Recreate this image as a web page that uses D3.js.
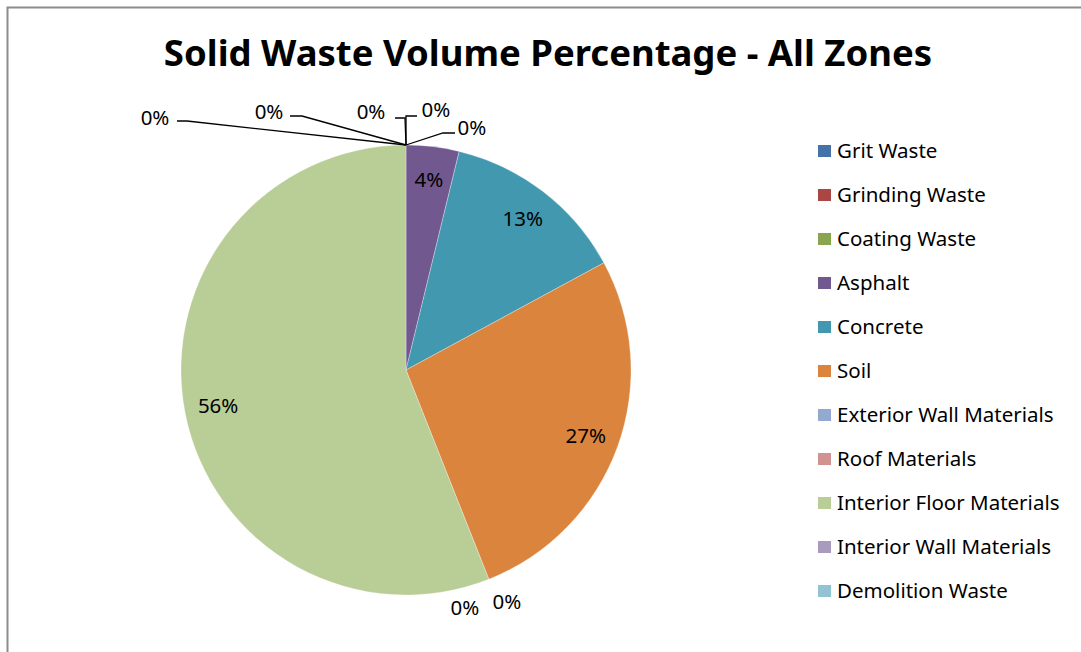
<!DOCTYPE html>
<html>
<head>
<meta charset="utf-8">
<script src="https://cdn.jsdelivr.net/npm/d3@7"></script>
<style>
  body { margin: 0; background: #fff; }
  svg text { font-family: "Noto Sans", "Open Sans", sans-serif; fill: #000; }
</style>
</head>
<body>
<svg id="chart" width="1081" height="652"></svg>
<script>
// data
var categories = ["Grit Waste", "Grinding Waste", "Coating Waste", "Asphalt", "Concrete", "Soil",
  "Exterior Wall Materials", "Roof Materials", "Interior Floor Materials", "Interior Wall Materials", "Demolition Waste"];
var values = [0, 0, 0, 3.8, 13.3, 26.9, 0, 0, 56.0, 0, 0];
var colors = ["#4572A7", "#AA4643", "#89A54E", "#71588F", "#4198AF", "#DB843D",
  "#93A9CF", "#D19392", "#B9CD96", "#A99BBD", "#91C3D5"];
var title = "Solid Waste Volume Percentage - All Zones";

// where the 0% labels of empty slices sit, relative to the slice's point on the rim
// [text dx, text dy, leader elbow dx, dy, leader end dx, dy] (no leader when only two numbers)
var zeroLabels = {
  "Grit Waste":       [30, -35, 0, -29, 11, -29],
  "Grinding Waste":   [66, -17, 37, -12, 49, -12],
  "Coating Waste":    [-35, -33, -1, -27, -11, -27],
  "Exterior Wall Materials": [-24, 29],
  "Roof Materials":   [18, 23],
  "Interior Wall Materials": [-137, -33, -104, -29, -116, -29],
  "Demolition Waste": [-251, -27, -219, -24, -229, -24]
};

var svg = d3.select("#chart");
var cx = 406, cy = 370, radius = 225;

// frame
svg.append("rect")
  .attr("x", 7.5).attr("y", 7.5)
  .attr("width", 1100).attr("height", 700)
  .attr("fill", "none").attr("stroke", "#8c8c8c").attr("stroke-width", 2);

svg.append("text")
  .attr("x", 548).attr("y", 66)
  .attr("text-anchor", "middle")
  .style("font-size", "36.5px").style("font-weight", "bold")
  .text(title);

var data = categories.map(function(c, i) { return { name: c, value: values[i], color: colors[i] }; });
var total = d3.sum(values);

var pie = d3.pie().sort(null).value(function(d) { return d.value; });
var arcs = pie(data);

var arc = d3.arc().innerRadius(0).outerRadius(radius);
var labelArc = d3.arc().innerRadius(radius * 0.85).outerRadius(radius * 0.85);

var g = svg.append("g").attr("transform", "translate(" + cx + "," + cy + ")");

g.selectAll("path.slice")
  .data(arcs)
  .enter()
  .append("path")
  .attr("class", "slice")
  .attr("d", arc)
  .attr("fill", function(d) { return d.data.color; })
  .attr("stroke", "#fff")
  .attr("stroke-width", 0.5)
  .attr("stroke-opacity", function(d) { return d.value > 0 ? 0.6 : 0; });

var pct = function(d) { return Math.round(d.value / total * 100) + "%"; };

// labels inside the slices
g.selectAll("text.inside")
  .data(arcs.filter(function(d) { return d.value > 0; }))
  .enter()
  .append("text")
  .attr("class", "inside")
  .attr("transform", function(d) {
    var c = labelArc.centroid(d);
    return "translate(" + c[0] + "," + c[1] + ")";
  })
  .attr("text-anchor", "middle")
  .attr("dy", "0.35em")
  .style("font-size", "20.5px")
  .text(pct);

// labels of empty slices, outside with leader lines
var rimPoint = function(d) {
  return [Math.sin(d.startAngle) * radius, -Math.cos(d.startAngle) * radius];
};
var empty = arcs.filter(function(d) { return d.value === 0; });

empty.forEach(function(d) {
  var p = rimPoint(d);
  var L = zeroLabels[d.data.name];
  if (L.length > 2) {
    g.append("path")
      .attr("d", d3.line()([p, [p[0] + L[2], p[1] + L[3]], [p[0] + L[4], p[1] + L[5]]]))
      .attr("fill", "none")
      .attr("stroke", "#000")
      .attr("stroke-width", 1.3);
  }
  g.append("text")
    .attr("x", p[0] + L[0]).attr("y", p[1] + L[1])
    .attr("text-anchor", "middle")
    .attr("dy", "0.35em")
    .style("font-size", "20.5px")
    .text(pct(d));
});

// legend
var legend = svg.append("g").attr("transform", "translate(818,151)");
var item = legend.selectAll("g")
  .data(data)
  .enter()
  .append("g")
  .attr("transform", function(d, i) { return "translate(0," + (i * 44) + ")"; });

item.append("rect")
  .attr("x", 0).attr("y", -6)
  .attr("width", 13).attr("height", 12)
  .attr("fill", function(d) { return d.color; });

item.append("text")
  .attr("x", 19).attr("y", 0)
  .attr("dy", "0.35em")
  .style("font-size", "20.5px")
  .text(function(d) { return d.name; });
</script>
</body>
</html>
